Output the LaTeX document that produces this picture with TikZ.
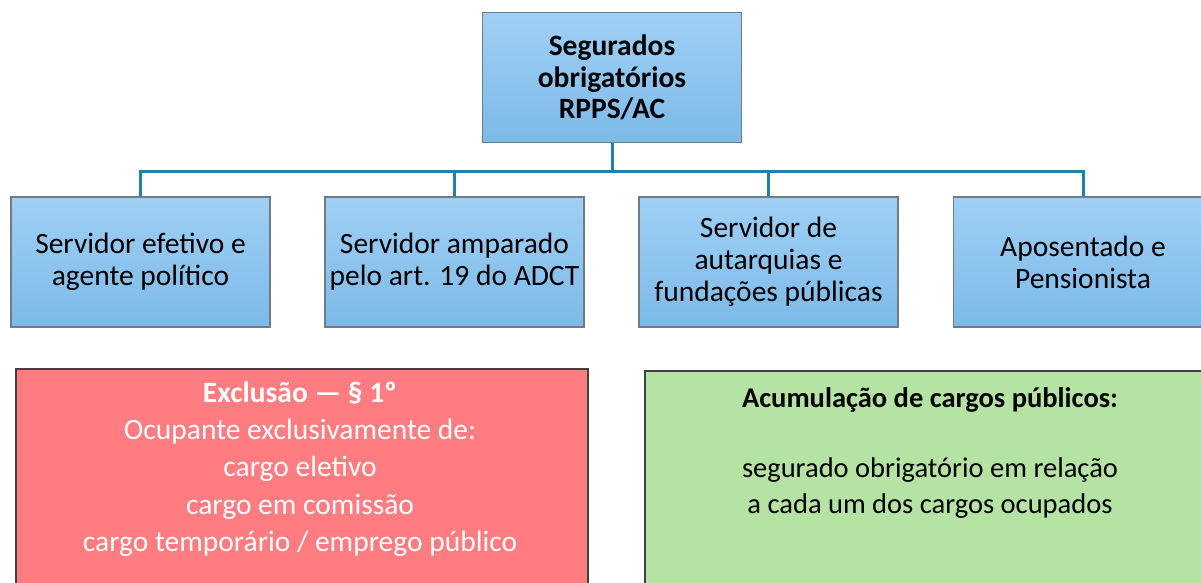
\documentclass[tikz,border=0pt]{standalone}
\usepackage{fontspec}
\setmainfont{Carlito}
\definecolor{bluetop}{HTML}{A0CFF4}
\definecolor{bluebot}{HTML}{7CBAE8}
\definecolor{boxborder}{HTML}{6F7C87}
\definecolor{conncol}{HTML}{2080A8}
\definecolor{redfill}{HTML}{FF7C80}
\definecolor{greenfill}{HTML}{B4E3A4}
\definecolor{darkborder}{HTML}{404040}
\tikzset{
  bluebox/.style={draw=boxborder, line width=1.5pt, top color=bluetop, bottom color=bluebot,
    minimum width=259pt, minimum height=130pt, inner sep=0pt, align=center,
    font=\fontsize{29.5}{32}\selectfont},
  conn/.style={draw=conncol, line width=3pt},
  lowbox/.style={draw=darkborder, line width=1.5pt, inner sep=0pt, anchor=north west},
  lowtext/.style={align=center, anchor=center, inner sep=0pt}
}
\begin{document}
\begin{tikzpicture}[x=1pt,y=-1pt]
\useasboundingbox (0,0) rectangle (1201,583);
\clip (0,0) rectangle (1201,583);
\node[bluebox, font=\fontsize{29.5}{31.5}\selectfont\bfseries] (top) at (612,77.5) {Segurados\\obrigatórios\\RPPS/AC};
\node[bluebox] (c1) at (140.5,262) {Servidor efetivo e\\agente político};
\node[bluebox] (c2) at (454.5,262) {Servidor amparado\\pelo art. 19 do ADCT};
\node[bluebox] (c3) at (768.5,262) {Servidor de\\autarquias e\\fundações públicas};
\node[bluebox] (c4) at (1083,262) {Aposentado e\\Pensionista};
\draw[conn] (top.south) -- ++(0,28) -| (c1.north);
\draw[conn] (top.south) -- ++(0,28) -| (c2.north);
\draw[conn] (top.south) -- ++(0,28) -| (c3.north);
\draw[conn] (top.south) -- ++(0,28) -| (c4.north);
\node[lowbox, fill=redfill, minimum width=572pt, minimum height=240pt] (red) at (15,368) {};
\node[lowtext, text=white, font=\fontsize{29.5}{37.3}\selectfont] (redtxt) at (300,469) {\textbf{Exclusão — § 1º}\\Ocupante exclusivamente de:\\cargo eletivo\\cargo em comissão\\cargo temporário / emprego público};
\node[lowbox, fill=greenfill, minimum width=572pt, minimum height=240pt] (green) at (644,370) {};
\node[lowtext, text=black, font=\fontsize{28.5}{36}\selectfont] (greentxt) at (930,453) {\textbf{Acumulação de cargos públicos:}\\[34pt]segurado obrigatório em relação\\a cada um dos cargos ocupados};
\end{tikzpicture}
\end{document}
